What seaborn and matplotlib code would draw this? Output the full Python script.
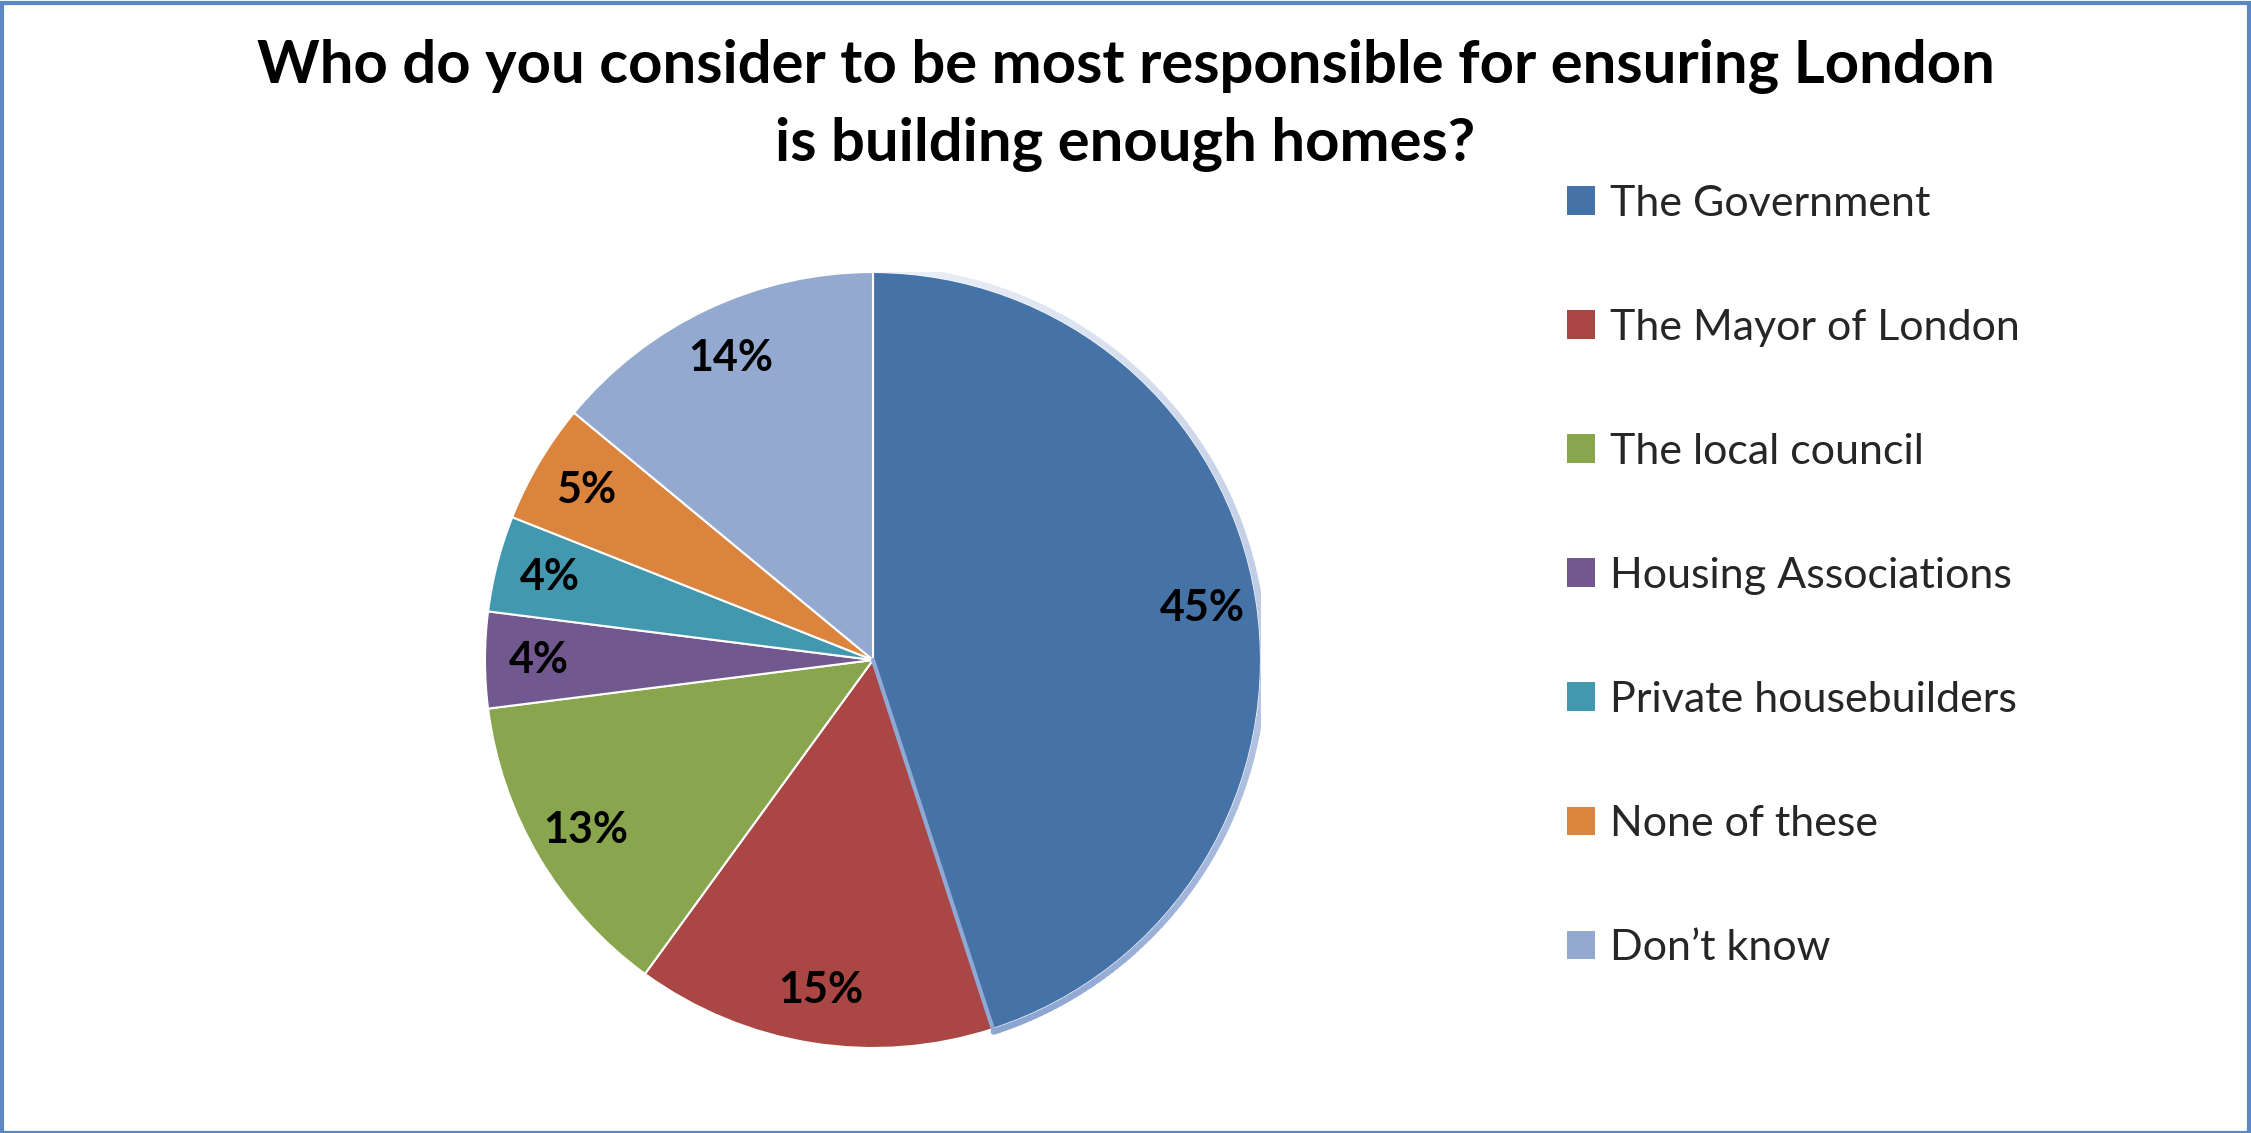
import matplotlib
matplotlib.use("Agg")
import matplotlib.pyplot as plt
from matplotlib.patches import Patch, Rectangle
from matplotlib.collections import LineCollection
from matplotlib.colors import LinearSegmentedColormap
import numpy as np
import seaborn as sns

categories = [
    "The Government",
    "The Mayor of London",
    "The local council",
    "Housing Associations",
    "Private housebuilders",
    "None of these",
    "Don\u2019t know",
]
shares = [45, 15, 13, 4, 4, 5, 14]
colors = ["#4572A7", "#AA4643", "#89A54E", "#71588F", "#4198AF", "#DB843D", "#93A9CF"]
title_lines = [
    "Who do you consider to be most responsible for ensuring London",
    "is building enough homes?",
]

sns.set_theme(style="white")
plt.rcParams["font.family"] = ["Lato", "DejaVu Sans"]

W, H = 2251, 1133
fig = plt.figure(figsize=(W / 100, H / 100), dpi=100)
fig.patch.set_facecolor("white")

# outer chart frame
fig.add_artist(Rectangle((0.001, 0.0), 0.998, 0.997, transform=fig.transFigure,
                         fill=False, edgecolor="#5B87C5", linewidth=3))

# pie axes: centre (873, 660) px from top, radius 388 px
cx, cy, r = 873, 660, 388
ax = fig.add_axes([(cx - r) / W, (H - cy - r) / H, 2 * r / W, 2 * r / H])
wedges, _ = ax.pie(
    shares,
    colors=colors,
    startangle=90,
    counterclock=False,
    radius=1.0,
    wedgeprops=dict(edgecolor="white", linewidth=1.5),
)

# soft highlighted rim around the largest slice
gov = wedges[0]
t = np.linspace(np.deg2rad(gov.theta2), np.deg2rad(gov.theta1), 200)
rr = 1.007
pts = np.column_stack([rr * np.cos(t), rr * np.sin(t)])
segs = np.stack([pts[:-1], pts[1:]], axis=1)
rim_cmap = LinearSegmentedColormap.from_list("rim", ["#EEF1F8", "#BFCCE5", "#8AA4D1"])
lc = LineCollection(segs, cmap=rim_cmap, linewidths=4.5, capstyle="round", zorder=3)
lc.set_array(np.linspace(0, 1, len(segs)))
ax.add_collection(lc)
a_end = np.deg2rad(gov.theta1)
ax.plot([0.0, rr * np.cos(a_end)], [0.0, rr * np.sin(a_end)], color="#8FA8D4",
        lw=3, solid_capstyle="round", zorder=3)

ax.set_xlim(-1.0, 1.0)
ax.set_ylim(-1.0, 1.0)
ax.set_aspect("equal")
ax.axis("off")

# percentage labels
for w, v in zip(wedges, shares):
    ang = np.deg2rad((w.theta1 + w.theta2) / 2)
    d = 0.86
    ax.text(d * np.cos(ang), d * np.sin(ang), f"{v}%", ha="center", va="center",
            fontsize=31, fontweight="bold", color="black", zorder=4)

for line, ypx in zip(title_lines, [67, 144]):
    fig.text(0.5, 1 - ypx / H, line, ha="center", va="center",
             fontsize=43, fontweight="bold", color="black")

handles = [Patch(facecolor=c, edgecolor="none") for c in colors]
leg = fig.legend(
    handles, categories,
    loc="upper left",
    bbox_to_anchor=(1545 / W, 1 - 163 / H),
    frameon=False,
    fontsize=31,
    handlelength=0.65,
    handleheight=0.65,
    handletextpad=0.35,
    labelspacing=2.0,
    borderpad=0,
)

fig.savefig("out.png", dpi=100, facecolor="white")
